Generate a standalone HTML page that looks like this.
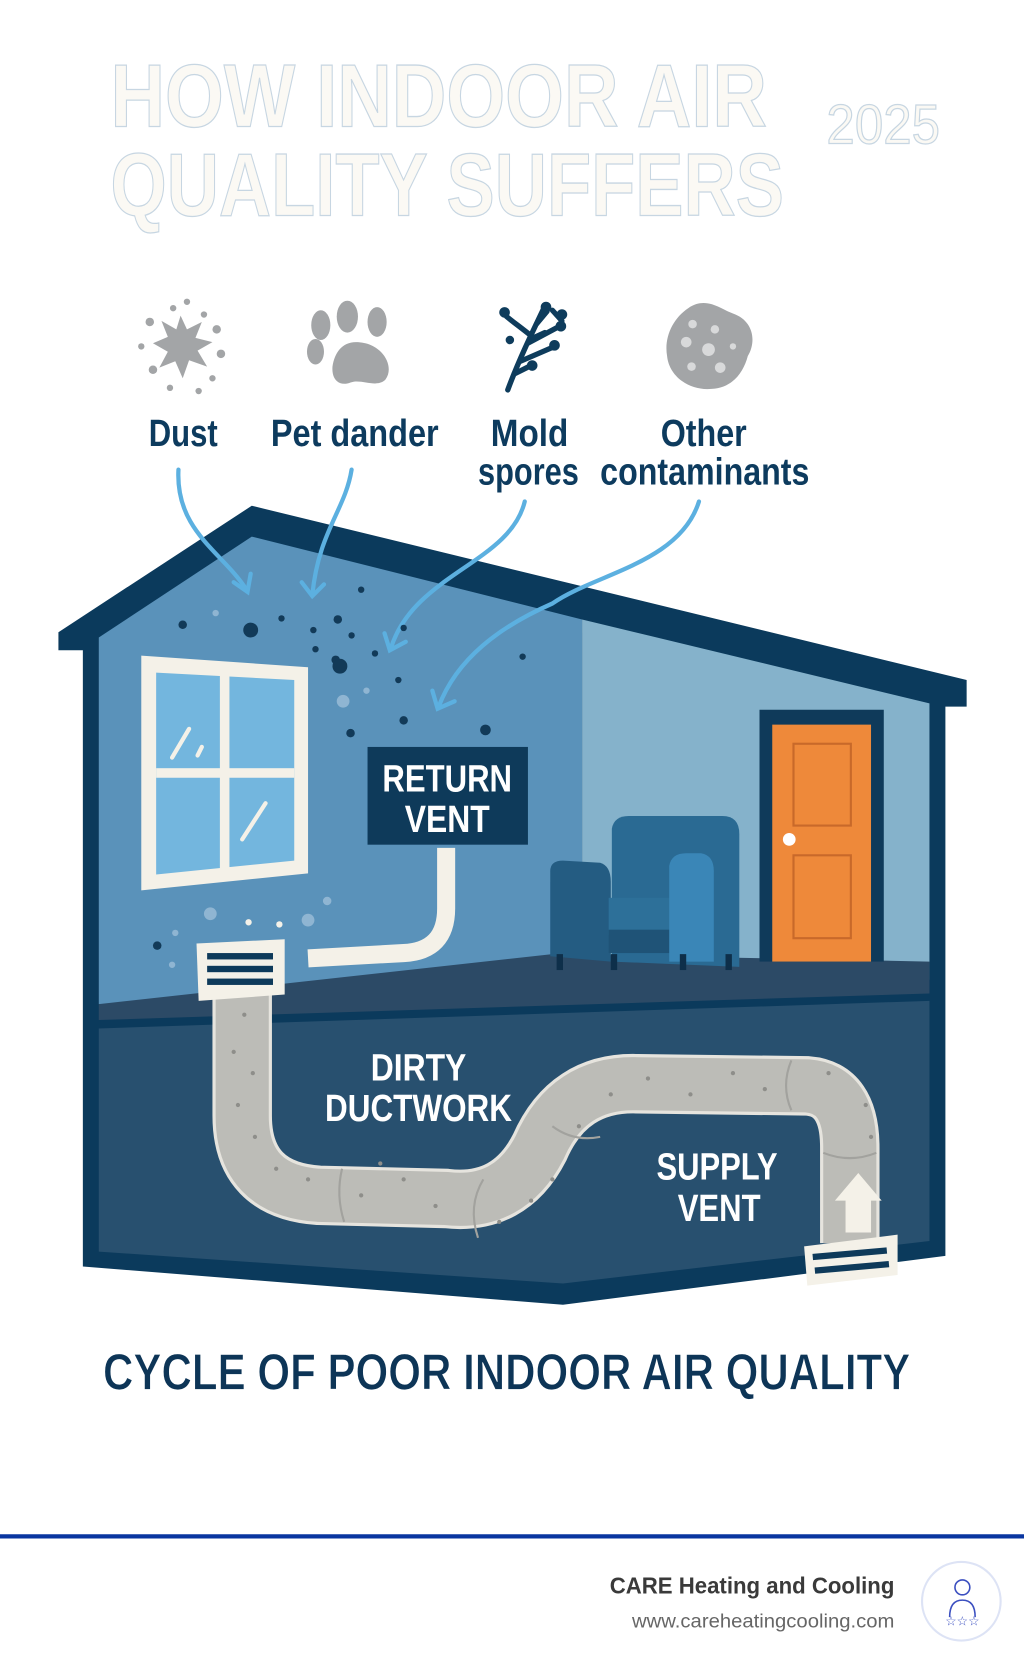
<!DOCTYPE html>
<html><head><meta charset="utf-8"><style>
html,body{margin:0;padding:0;background:#fff;}
svg{display:block;}
.n{font-family:"Liberation Sans Narrow","Liberation Sans",sans-serif;font-weight:bold;}
</style></head><body>
<svg width="1024" height="1666" viewBox="0 0 964 1568" preserveAspectRatio="none" xmlns="http://www.w3.org/2000/svg">
<rect width="964" height="1568" fill="#fff"/>
<g class="n" fill="#fbf9f4" stroke="#c7d6e2" stroke-width="1.2">
<text x="104" y="119" font-size="84" textLength="618" lengthAdjust="spacingAndGlyphs">HOW INDOOR AIR</text>
<text x="104" y="203" font-size="84" textLength="634" lengthAdjust="spacingAndGlyphs">QUALITY SUFFERS</text>
<text x="778" y="135" font-size="52" font-weight="normal" textLength="107" lengthAdjust="spacingAndGlyphs">2025</text>
</g>
<g fill="#a3a5a7">
<polygon points="170,297 176,310 190,303 184,318 200,322 186,330 195,345 178,339 172,356 165,340 150,346 158,331 144,323 158,317 152,302 166,310"/>
<circle cx="176" cy="284" r="3"/><circle cx="163" cy="290" r="3"/><circle cx="192" cy="296" r="3"/><circle cx="141" cy="303" r="4"/><circle cx="204" cy="310" r="4"/><circle cx="133" cy="326" r="3"/><circle cx="208" cy="333" r="4"/><circle cx="144" cy="348" r="4"/><circle cx="200" cy="356" r="3"/><circle cx="160" cy="365" r="3"/><circle cx="187" cy="368" r="3"/>
<ellipse cx="302" cy="306" rx="9" ry="14"/><ellipse cx="327" cy="298" rx="10" ry="15"/><ellipse cx="355" cy="303" rx="9" ry="14"/><ellipse cx="297" cy="331" rx="8" ry="12"/>
<path d="M335,322 C360,322 372,345 363,357 C355,366 340,356 330,360 C320,364 312,358 313,345 C315,332 322,322 335,322Z"/>
<path d="M648,290 C665,278 680,292 690,295 C710,302 712,322 704,335 C700,350 690,365 670,366 C650,368 630,355 628,335 C625,318 633,300 648,290Z"/>
</g>
<g fill="#d8d9da"><circle cx="652" cy="305" r="4"/><circle cx="673" cy="310" r="4"/><circle cx="646" cy="322" r="5"/><circle cx="667" cy="329" r="6"/><circle cx="690" cy="326" r="3"/><circle cx="651" cy="345" r="4"/><circle cx="678" cy="346" r="5"/></g>
<g stroke="#0e3c5c" stroke-width="5" fill="none" stroke-linecap="round">
<path d="M478,367 C488,340 500,315 512,290"/><path d="M505,305 L515,293"/><path d="M500,316 C490,308 483,303 477,298 L475,292"/><path d="M497,323 L525,308"/><path d="M502,318 L513,313"/><path d="M490,340 L520,327"/><path d="M484,352 L498,345"/><path d="M520,292 L529,302"/>
</g>
<g fill="#0e3c5c"><circle cx="514" cy="289" r="5"/><circle cx="529" cy="296" r="5"/><circle cx="475" cy="294" r="5"/><circle cx="528" cy="307" r="5"/><circle cx="522" cy="325" r="5"/><circle cx="501" cy="344" r="5"/><circle cx="480" cy="320" r="4"/></g>
<g class="n" fill="#0d3b5e" font-size="36" lengthAdjust="spacingAndGlyphs">
<text x="140" y="420" textLength="65" lengthAdjust="spacingAndGlyphs">Dust</text>
<text x="255" y="420" textLength="158" lengthAdjust="spacingAndGlyphs">Pet dander</text>
<text x="462" y="420" textLength="73" lengthAdjust="spacingAndGlyphs">Mold</text>
<text x="450" y="456" textLength="95" lengthAdjust="spacingAndGlyphs">spores</text>
<text x="622" y="420" textLength="81" lengthAdjust="spacingAndGlyphs">Other</text>
<text x="565" y="456" textLength="197" lengthAdjust="spacingAndGlyphs">contaminants</text>
</g>
<polygon points="55,595 237,476 910,640 910,665 890,665 890,1182 530,1228 78,1192 78,612 55,612" fill="#0b3a5c"/>
<polygon points="93,600 237,505 548,583 548,938 93,945" fill="#5a92ba"/>
<polygon points="548,583 875,662 875,922 548,938" fill="#85b2cb"/>
<polygon points="93,945 520,898 875,905 875,935 93,960" fill="#2c4a66"/>
<polygon points="93,968 875,942 875,1168 530,1208 93,1178" fill="#28506f"/>
<g stroke="#5cb0e0" stroke-width="4" fill="none" stroke-linecap="round">
<path d="M168,442 C165,500 210,520 232,555"/><path d="M220,548 L233,557 L236,540"/>
<path d="M331,442 C325,480 300,500 294,560"/><path d="M284,548 L294,561 L305,550"/>
<path d="M494,472 C480,530 390,540 368,610"/><path d="M362,596 L367,612 L382,604"/>
<path d="M658,472 C640,530 560,540 520,568 C470,590 430,620 413,665"/><path d="M407,650 L412,667 L428,660"/>
</g>
<g fill="#123a58">
<circle cx="172" cy="588" r="4"/><circle cx="236" cy="593" r="7"/><circle cx="265" cy="582" r="3"/><circle cx="295" cy="593" r="3"/><circle cx="318" cy="583" r="4"/><circle cx="340" cy="555" r="3"/><circle cx="331" cy="598" r="3"/><circle cx="297" cy="611" r="3"/><circle cx="316" cy="621" r="4"/><circle cx="320" cy="627" r="7"/><circle cx="353" cy="615" r="3"/><circle cx="375" cy="640" r="3"/><circle cx="380" cy="678" r="4"/><circle cx="457" cy="687" r="5"/><circle cx="492" cy="618" r="3"/><circle cx="330" cy="690" r="4"/><circle cx="148" cy="890" r="4"/><circle cx="380" cy="591" r="3"/>
</g>
<g fill="#8fb5d2"><circle cx="203" cy="577" r="3"/><circle cx="323" cy="660" r="6"/><circle cx="345" cy="650" r="3"/><circle cx="198" cy="860" r="6"/><circle cx="290" cy="866" r="6"/><circle cx="308" cy="848" r="4"/><circle cx="165" cy="878" r="3"/><circle cx="162" cy="908" r="3"/></g>
<g fill="#f4f1e8"><circle cx="234" cy="868" r="3"/><circle cx="263" cy="870" r="3"/></g>
<polygon points="133,617 290,628 290,822 133,838" fill="#f4f1e8"/>
<polygon points="147,633 277,640 277,810 147,823" fill="#73b6de"/>
<rect x="207" y="630" width="9" height="190" fill="#f4f1e8"/>
<rect x="147" y="723" width="130" height="9" fill="#f4f1e8"/>
<g stroke="#f4f1e8" stroke-width="4" stroke-linecap="round"><path d="M162,713 L178,686"/><path d="M186,711 L190,703"/><path d="M228,790 L250,756"/></g>
<path d="M420,798 L420,855 Q420,895 380,897 L290,902" stroke="#f4f1e8" stroke-width="17" fill="none"/>
<rect x="346" y="703" width="151" height="92" fill="#0e3a5a"/>
<g class="n" fill="#fff" font-size="36"><text x="360" y="745" textLength="122" lengthAdjust="spacingAndGlyphs">RETURN</text><text x="381" y="783" textLength="80" lengthAdjust="spacingAndGlyphs">VENT</text></g>
<g>
<path d="M576,780 Q578,768 592,768 L680,768 Q696,768 696,785 L696,910 L576,905Z" fill="#2a6a93"/>
<path d="M518,820 Q518,810 530,810 L565,812 Q575,815 575,830 L575,905 L518,900Z" fill="#245c82"/>
<rect x="573" y="845" width="88" height="35" fill="#2d7099"/>
<rect x="573" y="875" width="90" height="22" fill="#1f5377"/>
<path d="M630,815 Q632,803 646,803 L660,803 Q672,805 672,820 L672,905 L630,905Z" fill="#3a86b7"/>
<rect x="524" y="898" width="6" height="15" fill="#0e2f4a"/><rect x="575" y="898" width="6" height="15" fill="#0e2f4a"/><rect x="640" y="898" width="6" height="15" fill="#0e2f4a"/><rect x="683" y="898" width="6" height="15" fill="#0e2f4a"/>
</g>
<rect x="715" y="668" width="117" height="237" fill="#0f3a5a"/>
<rect x="727" y="682" width="93" height="223" fill="#ee893a"/>
<g fill="none" stroke="#c8692a" stroke-width="2"><rect x="747" y="700" width="54" height="77"/><rect x="747" y="805" width="54" height="78"/></g>
<circle cx="743" cy="790" r="6" fill="#fff"/>
<path d="M228,935 L228,1050 Q228,1120 300,1125 L420,1128 Q480,1135 508,1080 Q535,1018 600,1020 L760,1022 Q800,1025 800,1080 L800,1170" stroke="#e6e4de" stroke-width="56" fill="none"/>
<path d="M228,935 L228,1050 Q228,1120 300,1125 L420,1128 Q480,1135 508,1080 Q535,1018 600,1020 L760,1022 Q800,1025 800,1080 L800,1170" stroke="#bcbcb7" stroke-width="50" fill="none"/>
<g stroke="#a2a29e" stroke-width="2" fill="none"><path d="M322,1100 Q316,1125 324,1150"/><path d="M455,1110 Q440,1135 450,1165"/><path d="M520,1060 Q540,1075 565,1070"/><path d="M745,998 Q735,1022 745,1045"/><path d="M775,1085 Q800,1095 825,1085"/></g>
<g fill="#8e8e8a"><circle cx="230" cy="955" r="2"/><circle cx="220" cy="990" r="2"/><circle cx="238" cy="1010" r="2"/><circle cx="224" cy="1040" r="2"/><circle cx="240" cy="1070" r="2"/><circle cx="260" cy="1100" r="2"/><circle cx="290" cy="1110" r="2"/><circle cx="340" cy="1125" r="2"/><circle cx="380" cy="1110" r="2"/><circle cx="410" cy="1135" r="2"/><circle cx="470" cy="1150" r="2"/><circle cx="500" cy="1130" r="2"/><circle cx="545" cy="1060" r="2"/><circle cx="575" cy="1030" r="2"/><circle cx="610" cy="1015" r="2"/><circle cx="650" cy="1030" r="2"/><circle cx="690" cy="1010" r="2"/><circle cx="720" cy="1025" r="2"/><circle cx="780" cy="1010" r="2"/><circle cx="815" cy="1040" r="2"/><circle cx="820" cy="1070" r="2"/><circle cx="358" cy="1095" r="2"/><circle cx="520" cy="1110" r="2"/></g>
<polygon points="185,888 268,884 268,936 187,942" fill="#f4f1e8"/>
<g fill="#0e3a5a"><rect x="195" y="897" width="62" height="6"/><rect x="195" y="909" width="62" height="6"/><rect x="195" y="921" width="62" height="6"/></g>
<polygon points="796,1160 796,1130 786,1130 808,1104 830,1130 820,1130 820,1160" fill="#f4f1e8"/>
<polygon points="757,1173 845,1162 845,1200 760,1210" fill="#f4f1e8"/>
<g fill="#0e3a5a"><rect x="765" y="1177" width="70" height="6" transform="rotate(-5 800 1180)"/><rect x="767" y="1190" width="70" height="6" transform="rotate(-5 800 1193)"/></g>
<g class="n" fill="#fff" font-size="36">
<text x="349" y="1017" textLength="90" lengthAdjust="spacingAndGlyphs">DIRTY</text><text x="306" y="1055" textLength="176" lengthAdjust="spacingAndGlyphs">DUCTWORK</text>
<text x="618" y="1110" textLength="114" lengthAdjust="spacingAndGlyphs">SUPPLY</text><text x="638" y="1149" textLength="78" lengthAdjust="spacingAndGlyphs">VENT</text>
</g>
<text class="n" x="477" y="1308" font-size="48" text-anchor="middle" fill="#0d3557" stroke="#fff" stroke-width="0.8" textLength="760" lengthAdjust="spacingAndGlyphs">CYCLE OF POOR INDOOR AIR QUALITY</text>
<rect x="0" y="1444" width="964" height="4" fill="#0a36a0"/>
<text x="574" y="1500" font-family="Liberation Sans,sans-serif" font-weight="bold" font-size="22" fill="#3a3a3a" textLength="268" lengthAdjust="spacingAndGlyphs">CARE Heating and Cooling</text>
<text x="595" y="1532" font-family="Liberation Sans,sans-serif" font-size="18" fill="#666" textLength="247" lengthAdjust="spacingAndGlyphs">www.careheatingcooling.com</text>
<circle cx="905" cy="1507" r="37" fill="#fff" stroke="#dde3f5" stroke-width="2"/>
<g fill="none" stroke="#3b4fc0" stroke-width="1.5"><circle cx="906" cy="1494" r="7"/><path d="M894,1522 Q894,1506 906,1506 Q918,1506 918,1522"/></g>
<text x="906" y="1530" font-size="12" fill="#3b4fc0" text-anchor="middle" font-family="DejaVu Sans,sans-serif">☆☆☆</text>
</svg>
</body></html>
